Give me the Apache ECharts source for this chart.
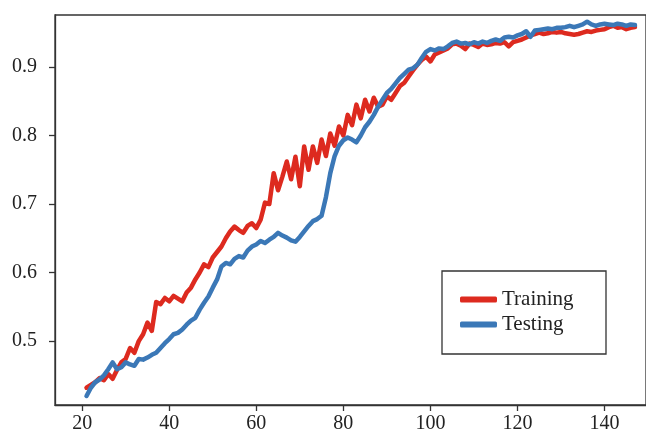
<!DOCTYPE html>
<html>
<head>
<meta charset="utf-8">
<script src="https://cdn.jsdelivr.net/npm/echarts@6/dist/echarts.min.js"></script>
<style>
  html, body { margin: 0; padding: 0; background: #fff; }
  #chart { width: 646px; height: 434px; }
</style>
</head>
<body>
<div id="chart"></div>
<script>
// Epoch numbers along the x axis
const epochs = [
  21, 22, 23, 24, 25, 26, 27, 28, 29, 30,
  31, 32, 33, 34, 35, 36, 37, 38, 39, 40,
  41, 42, 43, 44, 45, 46, 47, 48, 49, 50,
  51, 52, 53, 54, 55, 56, 57, 58, 59, 60,
  61, 62, 63, 64, 65, 66, 67, 68, 69, 70,
  71, 72, 73, 74, 75, 76, 77, 78, 79, 80,
  81, 82, 83, 84, 85, 86, 87, 88, 89, 90,
  91, 92, 93, 94, 95, 96, 97, 98, 99, 100,
  101, 102, 103, 104, 105, 106, 107, 108, 109, 110,
  111, 112, 113, 114, 115, 116, 117, 118, 119, 120,
  121, 122, 123, 124, 125, 126, 127, 128, 129, 130,
  131, 132, 133, 134, 135, 136, 137, 138, 139, 140,
  141, 142, 143, 144, 145, 146, 147
];

// Training accuracy per epoch
const training = [
  0.432, 0.436, 0.440, 0.446, 0.443, 0.452, 0.445, 0.458, 0.469, 0.474,
  0.490, 0.483, 0.500, 0.510, 0.527, 0.515, 0.557, 0.554, 0.563, 0.558,
  0.566, 0.562, 0.558, 0.571, 0.578, 0.590, 0.600, 0.612, 0.608, 0.622,
  0.630, 0.638, 0.650, 0.660, 0.667, 0.662, 0.658, 0.668, 0.672, 0.665,
  0.677, 0.702, 0.700, 0.745, 0.720, 0.740, 0.762, 0.736, 0.769, 0.726,
  0.784, 0.750, 0.784, 0.760, 0.794, 0.770, 0.803, 0.785, 0.813, 0.800,
  0.830, 0.815, 0.845, 0.825, 0.852, 0.835, 0.855, 0.842, 0.845, 0.857,
  0.852, 0.862, 0.872, 0.877, 0.886, 0.895, 0.903, 0.910, 0.915, 0.908,
  0.918, 0.921, 0.924, 0.927, 0.933, 0.934, 0.931, 0.926, 0.934, 0.932,
  0.929, 0.934, 0.932, 0.933, 0.935, 0.934, 0.936, 0.930, 0.936, 0.938,
  0.940, 0.943, 0.946, 0.948, 0.950, 0.948, 0.949, 0.951, 0.950, 0.951,
  0.949, 0.948, 0.947, 0.948, 0.950, 0.952, 0.951, 0.953, 0.954, 0.955,
  0.958, 0.960, 0.957, 0.958, 0.955, 0.957, 0.958
];

// Testing accuracy per epoch
const testing = [
  0.420, 0.432, 0.440, 0.444, 0.450, 0.459, 0.469, 0.459, 0.462, 0.469,
  0.466, 0.464, 0.474, 0.473, 0.476, 0.480, 0.483, 0.490, 0.497, 0.503,
  0.510, 0.512, 0.517, 0.524, 0.530, 0.534, 0.546, 0.556, 0.565, 0.578,
  0.590, 0.609, 0.614, 0.612, 0.620, 0.624, 0.622, 0.632, 0.638, 0.641,
  0.646, 0.643, 0.648, 0.652, 0.658, 0.654, 0.651, 0.647, 0.645, 0.652,
  0.660, 0.668, 0.675, 0.678, 0.683, 0.710, 0.745, 0.770, 0.785, 0.793,
  0.797, 0.794, 0.790, 0.800, 0.812, 0.820, 0.830, 0.842, 0.852, 0.862,
  0.868, 0.876, 0.884, 0.890, 0.896, 0.898, 0.903, 0.913, 0.922, 0.926,
  0.924, 0.927, 0.926, 0.930, 0.935, 0.937, 0.934, 0.935, 0.933, 0.936,
  0.934, 0.937, 0.935, 0.938, 0.940, 0.938, 0.943, 0.944, 0.943, 0.946,
  0.948, 0.952, 0.944, 0.953, 0.954, 0.955, 0.956, 0.955, 0.957, 0.957,
  0.958, 0.960, 0.958, 0.960, 0.962, 0.966, 0.962, 0.960, 0.962, 0.963,
  0.962, 0.961, 0.963, 0.962, 0.960, 0.962, 0.961
];

// Tick positions
const xTicks = [20, 40, 60, 80, 100, 120, 140];
const yTicks = [0.5, 0.6, 0.7, 0.8, 0.9];

const seriesNames = ['Training', 'Testing'];
const seriesColors = ['#dd2a1f', '#3b78b7'];

const pairs = (ys) => epochs.map((e, i) => [e, ys[i]]);

const FONT = '"Liberation Serif", "Times New Roman", serif';
const AXIS_COLOR = '#333333';

const chart = echarts.init(document.getElementById('chart'), null, { renderer: 'canvas' });

chart.setOption({
  backgroundColor: '#ffffff',
  animation: false,
  grid: {
    left: 55, top: 15, right: -3, bottom: 28.3,
    show: true, borderColor: AXIS_COLOR, borderWidth: 1.3,
    backgroundColor: 'transparent'
  },
  xAxis: {
    type: 'value',
    min: 13.76, max: 149.53,
    splitLine: { show: false },
    axisLine: { show: true, lineStyle: { color: AXIS_COLOR, width: 1.3 } },
    axisTick: { show: true, length: 6, lineStyle: { color: AXIS_COLOR, width: 1.3 }, customValues: xTicks },
    axisLabel: { customValues: xTicks, color: '#222', fontFamily: FONT, fontSize: 20, margin: 9 }
  },
  yAxis: {
    type: 'value',
    min: 0.40681, max: 0.97572,
    splitLine: { show: false },
    axisLine: { show: true, lineStyle: { color: AXIS_COLOR, width: 1.3 } },
    axisTick: { show: true, length: 6, lineStyle: { color: AXIS_COLOR, width: 1.3 }, customValues: yTicks },
    axisLabel: {
      customValues: yTicks, color: '#222', fontFamily: FONT, fontSize: 20, margin: 18,
      formatter: (v) => v.toFixed(1)
    }
  },
  legend: {
    orient: 'vertical',
    left: 455, top: 284,
    itemWidth: 37, itemHeight: 6, itemGap: 4,
    icon: 'roundRect',
    textStyle: { fontFamily: FONT, fontSize: 21, color: '#222', lineHeight: 21, padding: [0, 0, 0, 0] },
    data: seriesNames
  },
  graphic: [{
    type: 'rect',
    shape: { x: 442, y: 271, width: 164, height: 83 },
    style: { fill: 'none', stroke: AXIS_COLOR, lineWidth: 1.3 },
    z: 10
  }],
  series: seriesNames.map((name, i) => ({
    name,
    type: 'line',
    data: pairs(i === 0 ? training : testing),
    symbol: 'none',
    color: seriesColors[i],
    lineStyle: { width: 4.5, color: seriesColors[i], cap: 'round', join: 'round' },
    z: 2 + i
  }))
});
</script>
</body>
</html>
